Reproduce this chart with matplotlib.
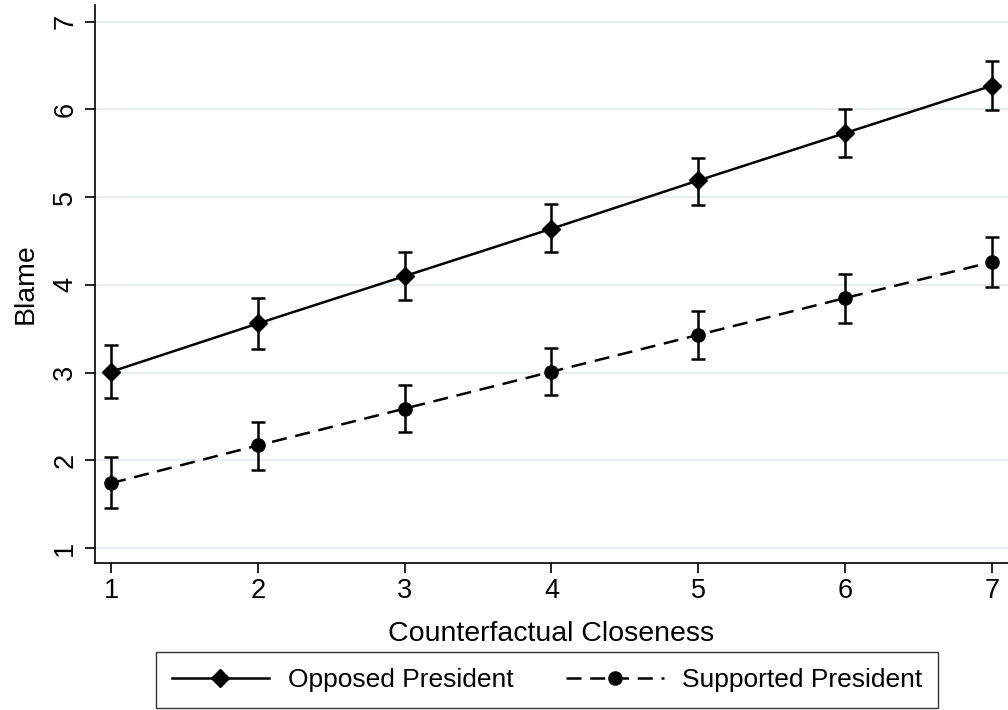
import matplotlib
matplotlib.use("Agg")
import matplotlib.pyplot as plt
import numpy as np

# data
closeness = [1, 2, 3, 4, 5, 6, 7]
opposed_mean = [3.01, 3.56, 4.10, 4.64, 5.19, 5.73, 6.27]
opposed_lo = [2.71, 3.27, 3.83, 4.37, 4.91, 5.46, 5.99]
opposed_hi = [3.32, 3.85, 4.38, 4.92, 5.45, 6.00, 6.55]
supported_mean = [1.74, 2.17, 2.59, 3.01, 3.43, 3.85, 4.26]
supported_lo = [1.46, 1.89, 2.32, 2.74, 3.16, 3.57, 3.98]
supported_hi = [2.04, 2.44, 2.86, 3.28, 3.70, 4.12, 4.55]
y_ticks = [1, 2, 3, 4, 5, 6, 7]

plt.rcParams['font.family'] = ['Liberation Sans', 'DejaVu Sans']

fig = plt.figure(figsize=(10.08, 7.10), dpi=100)
ax = fig.add_axes([95 / 1008, 1 - 563 / 710, 1 - 95 / 1008, (563 - 5) / 710])

dash = (0, (6, 3.5))
x = np.array(closeness)
for mean, lo, hi, marker, ls in [
    (opposed_mean, opposed_lo, opposed_hi, 'D', '-'),
    (supported_mean, supported_lo, supported_hi, 'o', dash),
]:
    mean = np.array(mean)
    yerr = [mean - np.array(lo), np.array(hi) - mean]
    ax.errorbar(x, mean, yerr=yerr, fmt='none', ecolor='black', elinewidth=1.8,
                capsize=5, capthick=1.8, zorder=2)
    ax.plot(x, mean, color='black', linestyle=ls, linewidth=1.8, marker=marker,
            markersize=9.5, markerfacecolor='black', markeredgecolor='black', zorder=3)

ax.set_xlim(0.89, 7.11)
ax.set_ylim(0.83, 7.19)
ax.set_xticks(closeness)
ax.set_yticks(y_ticks)
ax.tick_params(axis='both', labelsize=19.5, length=7, width=1.2, direction='out')
ax.tick_params(axis='x', pad=4)
ax.tick_params(axis='y', pad=5)
for lab in ax.get_yticklabels():
    lab.set_rotation(90)
    lab.set_va('center')
ax.grid(axis='y', color='#e6eef1', linewidth=1.5)
ax.set_axisbelow(True)
for s in ['top', 'right']:
    ax.spines[s].set_visible(False)
for s in ['left', 'bottom']:
    ax.spines[s].set_linewidth(1.2)

ax.set_xlabel('Counterfactual Closeness', fontsize=20.5, labelpad=12)
ax.set_ylabel('Blame', fontsize=20.5, labelpad=10)

h1, = ax.plot([], [], color='black', linestyle='-', linewidth=1.8, marker='D',
              markersize=9.5)
h2, = ax.plot([], [], color='black', linestyle=dash, linewidth=1.8, marker='o',
              markersize=9.5)
leg = fig.legend([h1, h2], ['Opposed President', 'Supported President'],
                 loc='lower center', bbox_to_anchor=(547 / 1008, 2 / 710), ncol=2,
                 fontsize=19, frameon=True, fancybox=False, handlelength=3.7,
                 columnspacing=2.0, borderpad=0.6, handletextpad=0.7,
                 borderaxespad=0)
leg.get_frame().set_edgecolor('black')
leg.get_frame().set_linewidth(1.0)

fig.savefig('out.png', dpi=100)
